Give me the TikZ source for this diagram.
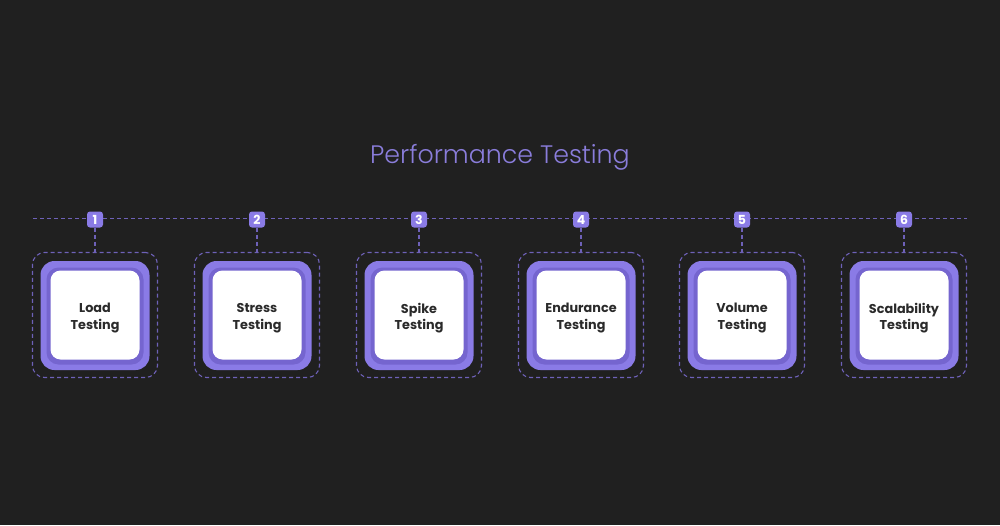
\documentclass[tikz,border=0pt]{standalone}
\usepackage{fontspec}
\setmainfont{Poppins}
\newfontfamily\titlefont{Poppins Light}
\definecolor{bg}{HTML}{202020}
\definecolor{purpA}{HTML}{8A7BE6}
\definecolor{purpB}{HTML}{7565CF}
\definecolor{dashc}{HTML}{6E61B8}
\definecolor{titlec}{HTML}{8A7DDB}
\definecolor{txt}{HTML}{2A2A2A}
\tikzset{
  dline/.style={draw=dashc, line width=1.1pt, dash pattern=on 4pt off 3pt},
  outerbox/.style={dline, rounded corners=12pt},
  badge/.style={fill=purpA, rounded corners=3pt, minimum size=16pt, inner sep=0pt, text=white, font=\fontsize{12.5}{12.5}\selectfont\bfseries},
  purple/.style={fill=purpA, rounded corners=14pt, minimum size=109pt, inner sep=0pt},
  ring/.style={fill=purpB, rounded corners=12pt, minimum width=97pt, minimum height=97pt, inner sep=0pt},
  card/.style={fill=white, rounded corners=10pt, minimum size=89pt, inner sep=0pt},
  cardtext/.style={text=txt, align=center, font=\fontsize{12.8}{16.5}\selectfont\bfseries},
}
\begin{document}
\begin{tikzpicture}[x=1pt,y=-1pt]
\fill[bg] (0,0) rectangle (1000,525);
\useasboundingbox (0,0) rectangle (1000,525);
\node[text=titlec, font=\titlefont\fontsize{25.3}{30}\selectfont] (title) at (500,157) {Performance Testing};
\coordinate (L) at (33,218.5);
\coordinate (R) at (967,218.5);
\draw[dline] (L) -- (R);
\foreach \i/\x/\a/\b in {1/95/Load/Testing,2/257/Stress/Testing,3/419/Spike/Testing,4/581/Endurance/Testing,5/742/Volume/Testing,6/904/Scalability/Testing}{
  \node[outerbox, minimum size=125pt, inner sep=0pt] (o\i) at (\x,315) {};
  \node[purple] (p\i) at (\x,315.5) {};
  \node[ring] (r\i) at (\x,316) {};
  \node[card] (c\i) at (\x,315) {};
  \node[cardtext] (t\i) at (\x,318) {\a\\\b};
  \node[badge] (b\i) at (\x,219.5) {\i};
  \draw[dline] (b\i.south) -- (o\i.north);
}
\end{tikzpicture}
\end{document}
